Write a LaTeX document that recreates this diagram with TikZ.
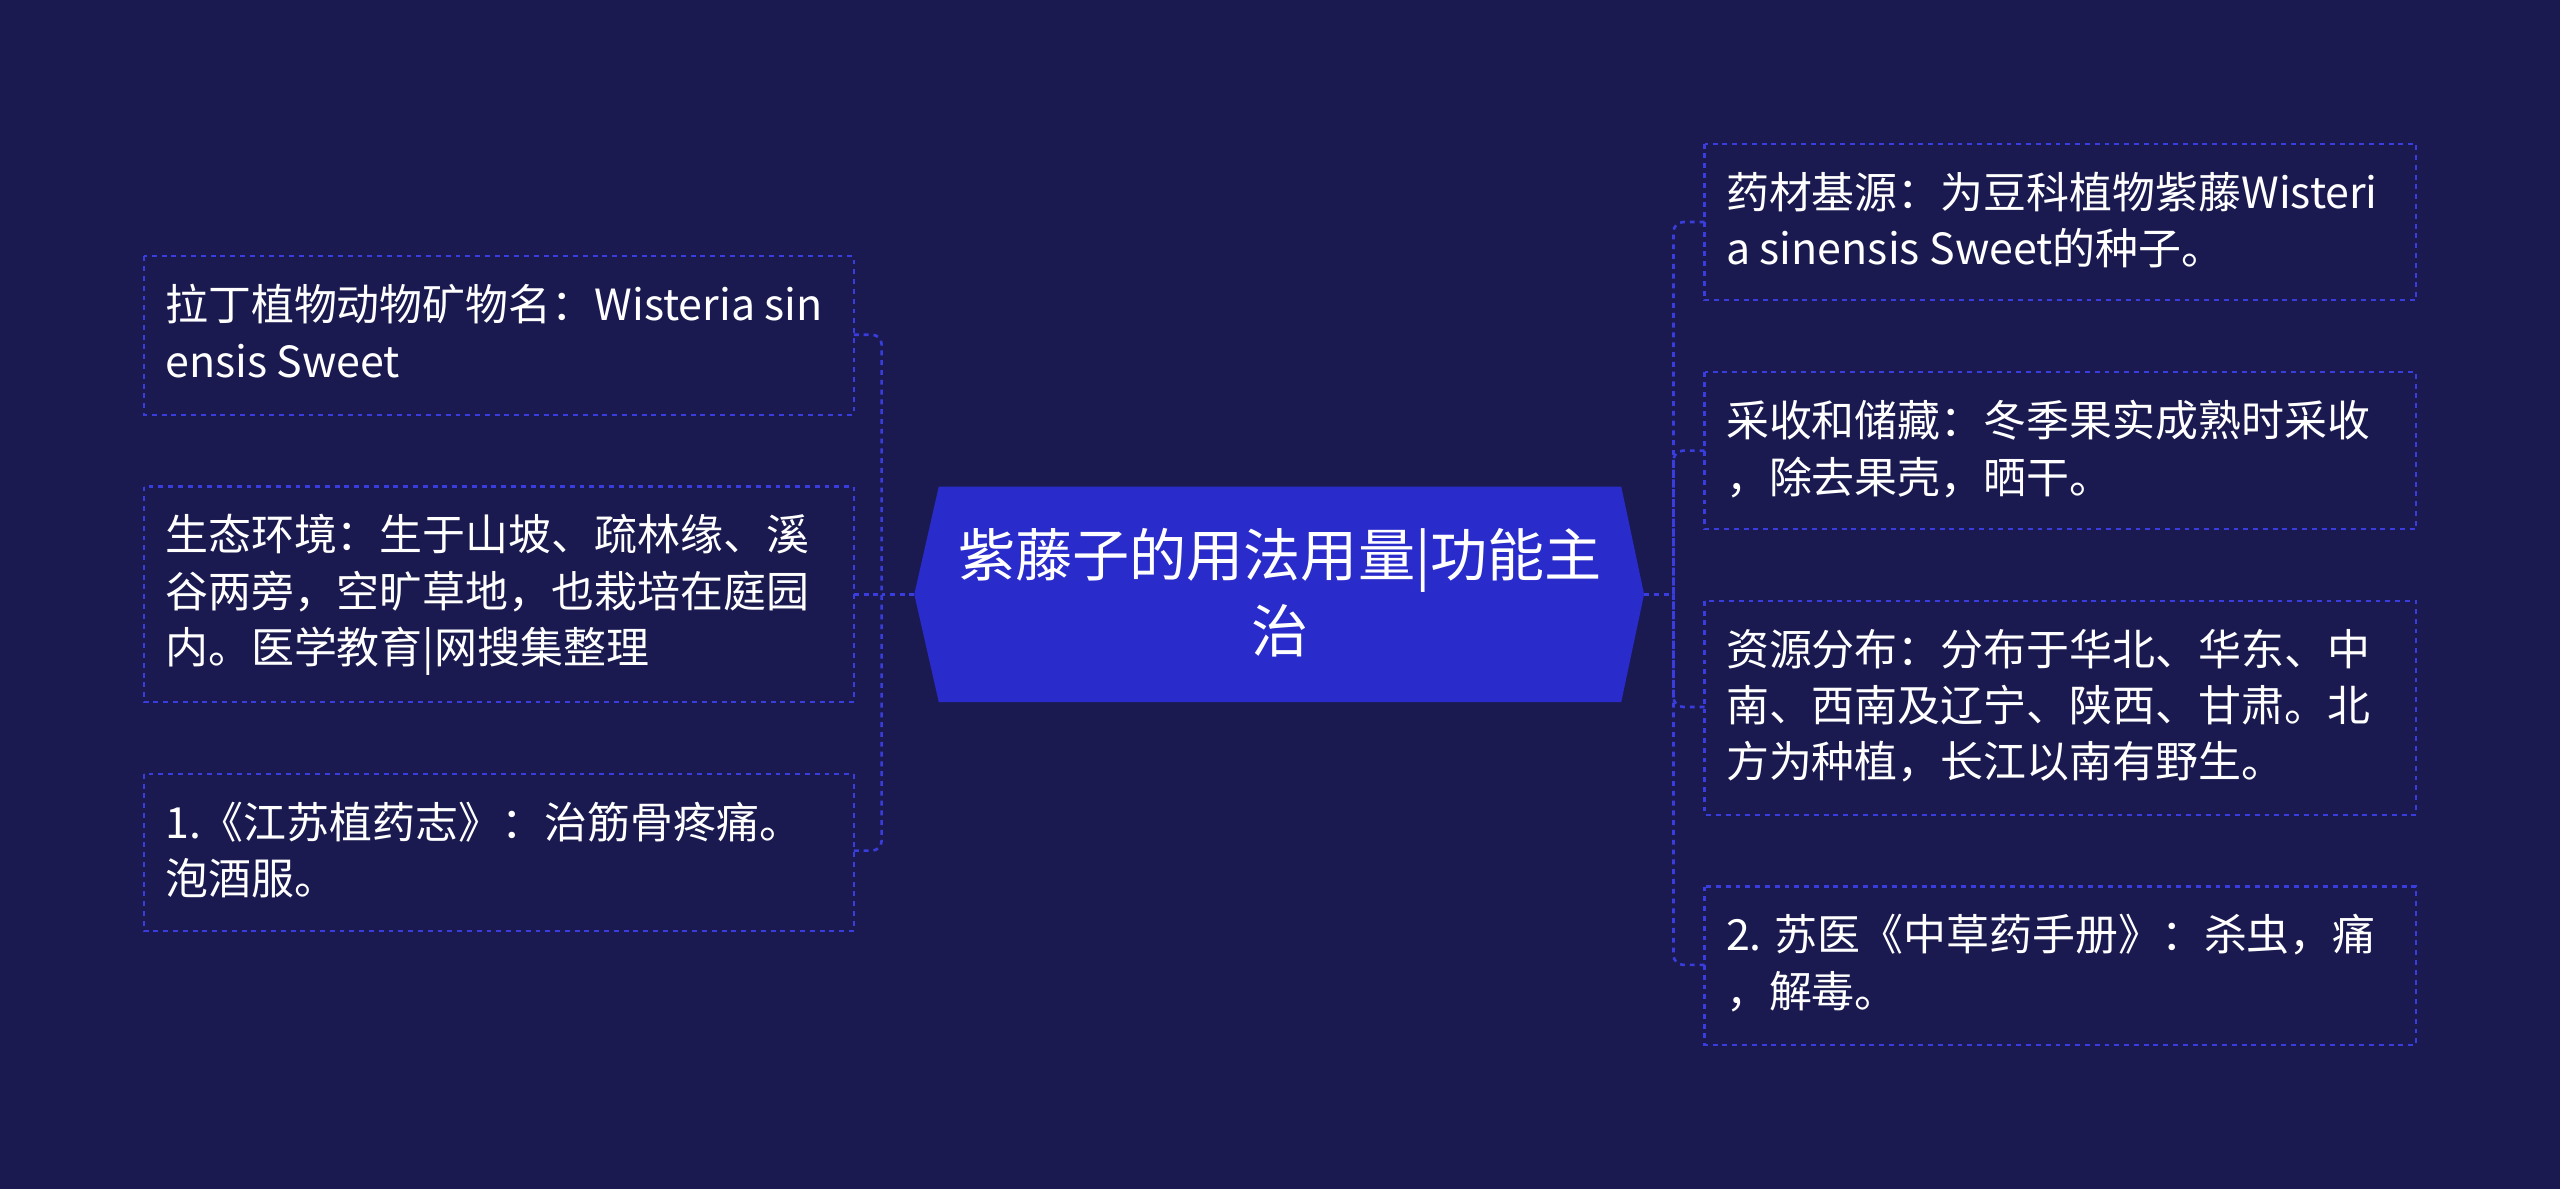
\documentclass[tikz,border=0pt]{standalone}
\usepackage{fontspec}
\setmainfont{Noto Sans CJK SC}
\definecolor{bg}{HTML}{1A1A50}
\definecolor{cen}{HTML}{2A2BCB}
\definecolor{ln}{HTML}{3A3DDD}
\begin{document}
\begin{tikzpicture}[x=1pt,y=-1pt,
  box/.style={draw=ln,dashed,line width=1.3pt,fill=bg},
  txt/.style={text=white,anchor=north west,align=left,inner sep=0pt,font=\fontsize{26.3}{34.5}\selectfont},
  con/.style={draw=ln,dashed,line width=1.6pt,rounded corners=6pt}]
\fill[bg] (0,0) rectangle (1568,728);
\useasboundingbox (0,0) rectangle (1568,728);
% center
\fill[cen] (560,364)--(575,298)--(993,298)--(1007,364)--(993,430)--(575,430)--cycle;
\node[text=white,align=center,font=\fontsize{35}{47}\selectfont] (c) at (784,363) {紫藤子的用法用量|功能主\\治};
\coordinate (cl) at (560,364); \coordinate (cr) at (1007,364);
% left boxes
\draw[box] (88,157) rectangle (523,254); \coordinate (l1) at (523,205);
\node[txt] (t1) at (101,174) {拉丁植物动物矿物名：Wisteria sin\\ensis Sweet};
\draw[box] (88,298) rectangle (523,430); \coordinate (l2) at (523,364);
\node[txt] (t2) at (101,315) {生态环境：生于山坡、疏林缘、溪\\谷两旁，空旷草地，也栽培在庭园\\内。医学教育|网搜集整理};
\draw[box] (88,474) rectangle (523,570); \coordinate (l3) at (523,521);
\node[txt] (t3) at (101,491) {1.《江苏植药志》：治筋骨疼痛。\\泡酒服。};
% right boxes
\draw[box] (1044,88) rectangle (1480,184); \coordinate (r1) at (1044,136);
\node[txt] (u1) at (1057,105) {药材基源：为豆科植物紫藤Wisteri\\a sinensis Sweet的种子。};
\draw[box] (1044,228) rectangle (1480,324); \coordinate (r2) at (1044,276);
\node[txt] (u2) at (1057,245) {采收和储藏：冬季果实成熟时采收\\，除去果壳，晒干。};
\draw[box] (1044,368) rectangle (1480,499); \coordinate (r3) at (1044,433);
\node[txt] (u3) at (1057,385) {资源分布：分布于华北、华东、中\\南、西南及辽宁、陕西、甘肃。北\\方为种植，长江以南有野生。};
\draw[box] (1044,543) rectangle (1480,640); \coordinate (r4) at (1044,591);
\node[txt] (u4) at (1057,560) {2. 苏医《中草药手册》：杀虫，痛\\，解毒。};
% connectors
\draw[con] (cl) -- (540,364);
\draw[con] (l1) -| (540,364);
\draw[con] (l3) -| (540,364);
\draw[con] (l2) -- (540,364);
\draw[con] (cr) -- (1025,364);
\draw[con] (r1) -| (1025,364);
\draw[con] (r2) -| (1025,364);
\draw[con] (r3) -| (1025,364);
\draw[con] (r4) -| (1025,364);
\end{tikzpicture}
\end{document}
